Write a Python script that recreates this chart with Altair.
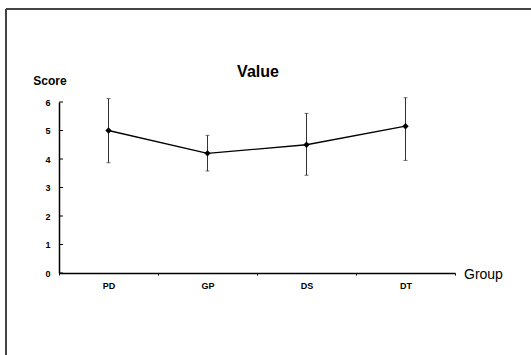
import altair as alt
import pandas as pd

groups = ["PD", "GP", "DS", "DT"]
means = [5.0, 4.2, 4.5, 5.15]
upper = [6.12, 4.83, 5.6, 6.15]
lower = [3.87, 3.58, 3.43, 3.95]
y_ticks = [0, 1, 2, 3, 4, 5, 6]

df = pd.DataFrame({"group": groups, "mean": means, "hi": upper, "lo": lower})
tdf = pd.DataFrame({"v": y_ticks})

FONT = "Liberation Sans"
W, H = 396, 171

xaxis = alt.Axis(labelFont=FONT, labelFontWeight="bold", labelFontSize=9,
                 labelColor="black", labelAngle=0, labelPadding=6,
                 domainColor="black", domainWidth=1.5, tickBand="extent",
                 tickColor="black", tickSize=2, grid=False)
yaxis = alt.Axis(values=y_ticks, labelFont=FONT, labelFontWeight="bold",
                 labelFontSize=9, labelColor="black", labelPadding=9,
                 labelOverlap=False,
                 domainColor="black", domainWidth=1.5, tickSize=0, grid=False)
xscale = alt.Scale(paddingInner=0, paddingOuter=0)
yscale = alt.Scale(domain=[0, 6], nice=False)


def X():
    return alt.X("group:N", sort=groups, title=None, scale=xscale, axis=xaxis)


def Y(f):
    return alt.Y(f, title=None, scale=yscale, axis=yaxis)


err = alt.Chart(df).mark_rule(color="#333333", strokeWidth=1).encode(
    x=X(), y=Y("hi:Q"), y2="lo:Q")
cap_hi = alt.Chart(df).mark_tick(orient="horizontal", color="#333333", size=4, thickness=1).encode(
    x=X(), y=Y("hi:Q"))
cap_lo = alt.Chart(df).mark_tick(orient="horizontal", color="#333333", size=4, thickness=1).encode(
    x=X(), y=Y("lo:Q"))
line = alt.Chart(df).mark_line(color="black", strokeWidth=1.3).encode(x=X(), y=Y("mean:Q"))
pts = alt.Chart(df).mark_point(shape="diamond", filled=True, color="black", size=40, opacity=1).encode(
    x=X(), y=Y("mean:Q"))
yt = alt.Chart(tdf).mark_rule(color="black", strokeWidth=1).encode(
    y=Y("v:Q"), x=alt.value(0), x2=alt.value(4))

frame_left = alt.Chart(tdf).mark_rule(color="#444444", strokeWidth=1.2).encode(
    x=alt.value(-53), y=alt.value(-93), y2=alt.value(260))
frame_top = alt.Chart(tdf).mark_rule(color="#444444", strokeWidth=1.2).encode(
    x=alt.value(-53), x2=alt.value(480), y=alt.value(-93))

txt = pd.DataFrame({"t": ["Value", "Score", "Group"]})
title = alt.Chart(txt).transform_filter(alt.datum.t == "Value").mark_text(
    font=FONT, fontWeight="bold", fontSize=16, color="black").encode(
    text="t:N", x=alt.value(199), y=alt.value(-30))
score = alt.Chart(txt).transform_filter(alt.datum.t == "Score").mark_text(
    font=FONT, fontWeight="bold", fontSize=12, color="black").encode(
    text="t:N", x=alt.value(-9), y=alt.value(-21))
grp = alt.Chart(txt).transform_filter(alt.datum.t == "Group").mark_text(
    font=FONT, fontSize=14, color="black", align="left").encode(
    text="t:N", x=alt.value(405), y=alt.value(2 + H))

chart = alt.layer(err, cap_hi, cap_lo, line, pts, yt, frame_left, frame_top, title, score, grp).properties(
    width=W, height=H,
    autosize=alt.AutoSizeParams(type="none"),
    padding={"left": 59, "top": 102, "right": 76, "bottom": 82},
    background="white",
).configure_view(strokeWidth=0, stroke=None)

chart.save("out.html", embed_options={"renderer": "svg", "actions": False})
